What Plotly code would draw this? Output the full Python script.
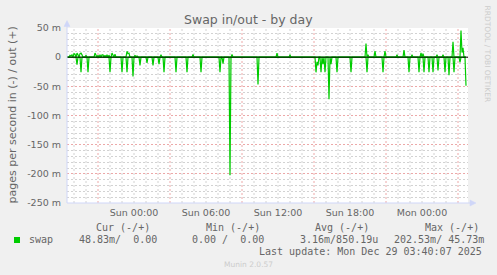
import plotly.graph_objects as go
import pandas as pd

# ---------------- data (milli pages / second) ----------------
start_time = "2025-12-27 18:25"
end_time = "2025-12-29 03:40"

# swap in (drawn negative)
in_times = ["2025-12-27 19:15", "2025-12-27 19:35", "2025-12-27 20:10", "2025-12-27 22:00",
            "2025-12-27 23:00", "2025-12-27 23:25", "2025-12-27 23:55", "2025-12-28 00:30",
            "2025-12-28 01:05", "2025-12-28 01:35", "2025-12-28 02:05", "2025-12-28 02:30",
            "2025-12-28 03:30", "2025-12-28 04:25", "2025-12-28 05:35", "2025-12-28 07:10",
            "2025-12-28 07:25", "2025-12-28 08:00", "2025-12-28 10:20",
            "2025-12-28 15:10", "2025-12-28 15:15", "2025-12-28 15:20", "2025-12-28 15:35",
            "2025-12-28 15:45", "2025-12-28 15:55", "2025-12-28 16:15", "2025-12-28 16:25",
            "2025-12-28 16:55", "2025-12-28 18:05", "2025-12-28 19:25", "2025-12-28 20:45",
            "2025-12-28 22:55", "2025-12-28 23:45", "2025-12-29 00:10", "2025-12-29 00:35",
            "2025-12-29 00:55", "2025-12-29 01:20", "2025-12-29 01:55", "2025-12-29 02:15",
            "2025-12-29 02:40", "2025-12-29 03:10", "2025-12-29 03:40"]
in_values = [13, 26, 26, 26,
             26, 26, 33, 14,
             10, 14, 12, 26,
             26, 26, 26, 26,
             11, 202.53, 47,
             26, 8, 14, 26,
             12, 26, 72, 12,
             26, 26, 26, 26,
             26, 26, 26, 26,
             26, 23, 26, 31,
             26, 9, 48.83]

# swap out (drawn positive)
out_times = ["2025-12-27 18:40", "2025-12-27 18:45", "2025-12-27 18:50", "2025-12-27 19:00",
             "2025-12-27 19:05", "2025-12-27 19:15", "2025-12-27 19:20", "2025-12-27 19:30",
             "2025-12-27 19:35", "2025-12-27 19:40", "2025-12-27 20:00", "2025-12-27 20:45",
             "2025-12-27 20:50", "2025-12-27 21:00", "2025-12-27 21:10", "2025-12-27 21:20",
             "2025-12-27 21:25", "2025-12-27 21:35", "2025-12-27 21:45", "2025-12-27 21:55",
             "2025-12-27 22:10", "2025-12-27 22:15", "2025-12-27 22:25", "2025-12-27 23:25",
             "2025-12-27 23:30", "2025-12-27 23:35", "2025-12-28 00:05", "2025-12-28 00:15",
             "2025-12-28 02:15", "2025-12-28 04:55", "2025-12-28 08:10", "2025-12-28 11:55",
             "2025-12-28 13:00", "2025-12-28 19:20", "2025-12-28 19:30", "2025-12-28 20:05",
             "2025-12-28 20:55", "2025-12-28 21:55", "2025-12-28 22:30", "2025-12-28 23:10",
             "2025-12-28 23:55", "2025-12-29 00:05", "2025-12-29 01:15", "2025-12-29 01:45",
             "2025-12-29 02:35", "2025-12-29 03:15", "2025-12-29 03:20", "2025-12-29 03:25"]
out_values = [3, 2, 4, 6,
              5, 7, 4, 6,
              7, 4, 3, 7,
              4, 3, 4, 4,
              4, 3, 4, 3,
              7, 4, 5, 10,
              6, 7, 3, 2,
              4, 4.5, 4.5, 7,
              4, 23.5, 4, 10.5,
              10.5, 4, 12, 4,
              7.5, 6, 4, 4,
              26.5, 45.73, 8, 16]

y_tick_vals = [50, 0, -50, -100, -150, -200, -250]
y_tick_text = ["50 m", "0", "-50 m", "-100 m", "-150 m", "-200 m", "-250 m"]
x_tick_vals = ["2025-12-28 00:00", "2025-12-28 06:00", "2025-12-28 12:00",
               "2025-12-28 18:00", "2025-12-29 00:00"]
x_tick_text = ["Sun 00:00", "Sun 06:00", "Sun 12:00", "Sun 18:00", "Mon 00:00"]

legend_header = ["Cur (-/+)", "Min (-/+)", "Avg (-/+)", "Max (-/+)"]
legend_values = ["48.83m/  0.00", "0.00 /  0.00", "3.16m/850.19u", "202.53m/ 45.73m"]
series_name = "swap"
last_update = "Last update: Mon Dec 29 03:40:07 2025"

# ---------------- series on the 5-minute grid ----------------
grid = pd.date_range(start_time, end_time, freq="5min")
s_in = pd.Series(0.0, index=grid)
for t, v in zip(in_times, in_values):
    s_in[pd.Timestamp(t)] = -v
s_out = pd.Series(0.0, index=grid)
for t, v in zip(out_times, out_values):
    s_out[pd.Timestamp(t)] = v

GREEN = "#00CC00"
FONT = "#666666"
AXIS = "#CFD6F8"
GRID = "#D2D2D2"
MGRID = "#ECA8A8"
W, H = 497, 275
L, R, T, B = 67, 29, 28, 72
PW, PH = W - L - R, H - T - B


def xp(px):
    return (px - L) / PW


def yp(py):
    return (H - B - py) / PH


fig = go.Figure()
fig.add_trace(go.Scatter(x=grid, y=s_in.values, mode="lines",
                         line=dict(color=GREEN, width=1.2), hoverinfo="skip"))
fig.add_trace(go.Scatter(x=grid, y=s_out.values, mode="lines",
                         line=dict(color=GREEN, width=1.2), hoverinfo="skip"))

shapes = []
# vertical minor (hourly) and major grid lines
for t in pd.date_range("2025-12-27 19:00", "2025-12-29 03:00", freq="1h"):
    major = (t.hour % 6) == 3
    shapes.append(dict(type="line", xref="x", yref="paper", x0=t, x1=t, y0=0, y1=1,
                       line=dict(color=MGRID if major else GRID, width=1, dash="2px,2px"),
                       layer="below"))
# zero line
shapes.append(dict(type="line", xref="paper", yref="y", x0=0, x1=1, y0=0, y1=0,
                   line=dict(color="#000000", width=1), layer="above"))
# axes with arrows
shapes.append(dict(type="line", xref="paper", yref="paper", x0=0, x1=0, y0=0, y1=yp(25),
                   line=dict(color=AXIS, width=1), layer="above"))
shapes.append(dict(type="path", xref="paper", yref="paper",
                   path=f"M {xp(67)} {yp(20.5)} L {xp(64)} {yp(26.5)} L {xp(70)} {yp(26.5)} Z",
                   fillcolor=AXIS, line=dict(color=AXIS, width=0.5), layer="above"))
shapes.append(dict(type="line", xref="paper", yref="paper", x0=0, x1=xp(471), y0=0, y1=0,
                   line=dict(color=AXIS, width=1), layer="above"))
shapes.append(dict(type="path", xref="paper", yref="paper",
                   path=f"M {xp(476)} {yp(203)} L {xp(470)} {yp(200)} L {xp(470)} {yp(206)} Z",
                   fillcolor=AXIS, line=dict(color=AXIS, width=0.5), layer="above"))
# legend colour box
shapes.append(dict(type="rect", xref="paper", yref="paper", x0=xp(14), x1=xp(20),
                   y0=yp(243), y1=yp(237), fillcolor=GREEN, line=dict(width=0)))

mono = dict(family="DejaVu Sans Mono", size=10, color=FONT)


def nb(s):
    return s.replace(" ", "\u00a0")


ann = []
ann.append(dict(text="Swap in/out - by day", xref="paper", yref="paper", x=xp(248.5), y=yp(20),
                xanchor="center", yanchor="middle", showarrow=False,
                font=dict(family="DejaVu Sans", size=12.5, color=FONT)))
ann.append(dict(text="pages per second in (-) / out (+)", xref="paper", yref="paper",
                x=xp(12), y=yp(115.5), xanchor="center", yanchor="middle", textangle=-90,
                showarrow=False, font=dict(family="DejaVu Sans", size=11, color=FONT)))
ann.append(dict(text="RRDTOOL / TOBI OETIKER", xref="paper", yref="paper",
                x=xp(487), y=yp(53.5), xanchor="center", yanchor="middle", textangle=90,
                showarrow=False, font=dict(family="DejaVu Sans", size=7.5, color="#CCCCCC")))
for txt, px in zip(legend_header, [94.3, 204, 313.3, 422.7]):
    ann.append(dict(text=nb(txt), xref="paper", yref="paper", x=xp(px), y=yp(227.7),
                    xanchor="left", yanchor="middle", showarrow=False, font=mono))
ann.append(dict(text=series_name, xref="paper", yref="paper", x=xp(26.7), y=yp(239.5),
                xanchor="left", yanchor="middle", showarrow=False, font=mono))
for txt, px in zip(legend_values, [77, 190, 297.7, 392.3]):
    ann.append(dict(text=nb(txt), xref="paper", yref="paper", x=xp(px), y=yp(239.5),
                    xanchor="left", yanchor="middle", showarrow=False, font=mono))
ann.append(dict(text=nb(last_update), xref="paper", yref="paper", x=xp(483.5), y=yp(251),
                xanchor="right", yanchor="middle", showarrow=False, font=mono))
ann.append(dict(text="Munin 2.0.57", xref="paper", yref="paper", x=xp(248), y=yp(264),
                xanchor="center", yanchor="middle", showarrow=False,
                font=dict(family="DejaVu Sans", size=7.5, color="#CCCCCC")))

fig.update_layout(
    width=W, height=H, margin=dict(l=L, r=R, t=T, b=B, pad=0),
    paper_bgcolor="#F0F0F0", plot_bgcolor="#FFFFFF", showlegend=False,
    shapes=shapes, annotations=ann,
    xaxis=dict(type="date", range=["2025-12-27 18:25", "2025-12-29 03:50"],
               tickmode="array", tickvals=x_tick_vals, ticktext=x_tick_text,
               showgrid=False, zeroline=False, showline=False, ticks="",
               tickfont=dict(family="DejaVu Sans", size=9.5, color=FONT),
               ticklabelstandoff=2, fixedrange=True),
    yaxis=dict(range=[-250, 50], tickmode="array", tickvals=y_tick_vals, ticktext=y_tick_text,
               showgrid=True, gridcolor=MGRID, griddash="2px,2px", gridwidth=1,
               minor=dict(dtick=10, showgrid=True, gridcolor=GRID, griddash="2px,2px",
                          gridwidth=1),
               zeroline=False, showline=False, ticks="",
               tickfont=dict(family="DejaVu Sans", size=9.5, color=FONT),
               ticklabelstandoff=5, fixedrange=True),
)

fig.write_html("out.html")
